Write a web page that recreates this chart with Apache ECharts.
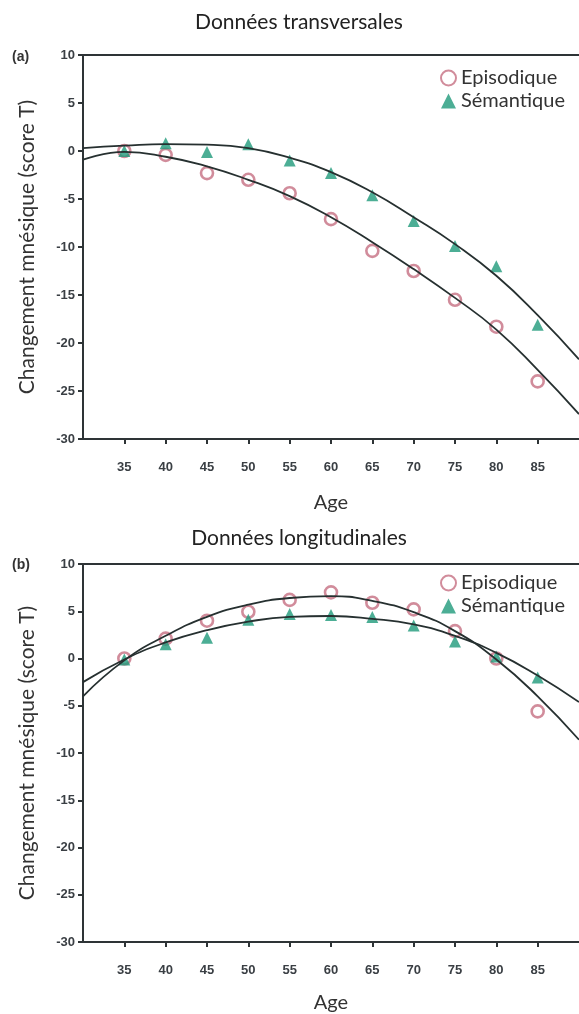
<!DOCTYPE html>
<html><head><meta charset="utf-8">
<script src="https://cdn.jsdelivr.net/npm/echarts@6/dist/echarts.min.js"></script>
<style>html,body{margin:0;padding:0;background:#fff}#c{width:579px;height:1014px}</style>
</head><body><div id="c"></div>
<script>
const ages = [35, 40, 45, 50, 55, 60, 65, 70, 75, 80, 85];
const xTicks = [30, 35, 40, 45, 50, 55, 60, 65, 70, 75, 80, 85, 90];
// (a) Données transversales
const transEpisodique = [0.0, -0.4, -2.3, -3.0, -4.4, -7.1, -10.4, -12.5, -15.5, -18.3, -24.0];
const transSemantique = [0.0, 0.8, -0.1, 0.7, -1.0, -2.3, -4.6, -7.3, -9.9, -12.0, -18.1];
// fitted curves
const fitAges = [30, 35, 40, 45, 50, 55, 60, 65, 70, 75, 80, 85, 90];
const transFitEpisodique = [-0.9, -0.1, -0.6, -1.6, -3.0, -4.7, -6.9, -9.5, -12.3, -15.3, -18.6, -22.8, -27.4];
const transFitSemantique = [0.3, 0.55, 0.72, 0.66, 0.3, -0.7, -2.2, -4.3, -6.9, -9.7, -13.0, -17.1, -21.7];
// (b) Données longitudinales
const longEpisodique = [0.0, 2.1, 4.0, 4.95, 6.2, 7.0, 5.9, 5.2, 2.9, 0.0, -5.6];
const longSemantique = [-0.1, 1.5, 2.2, 4.1, 4.7, 4.6, 4.4, 3.5, 1.8, 0.2, -2.0];
const longFitEpisodique = [-4.0, -0.2, 2.4, 4.4, 5.7, 6.4, 6.6, 6.1, 4.9, 2.9, -0.1, -4.0, -8.6];
const longFitSemantique = [-2.5, -0.1, 1.7, 3.0, 3.9, 4.4, 4.5, 4.2, 3.6, 2.4, 0.6, -1.8, -4.6];
const yTicks = [-30, -25, -20, -15, -10, -5, 0, 5, 10];

const pair = (xs, ys) => xs.map((x, i) => [x, ys[i]]);
const EPI = '#c66f82', SEM = '#1f9a7a', AX = '#2e3436', LINE = '#263030';
const FONT = 'Lato';

function xAxisFor(gi, gap) {
  return [{
    type: 'value', gridIndex: gi, position: 'bottom', min: xTicks[0], max: xTicks[xTicks.length - 1], interval: 5,
    name: 'Age', nameLocation: 'middle', nameGap: gap,
    nameTextStyle: {fontFamily: FONT, fontSize: 20, color: '#333'},
    axisLine: {show: true, onZero: false, lineStyle: {color: AX, width: 2}},
    axisTick: {show: true, length: 5, lineStyle: {color: AX, width: 2}},
    axisLabel: {showMinLabel: false, showMaxLabel: false, margin: 22, fontFamily: 'Liberation Sans', fontWeight: 'bold', fontSize: 13, color: '#3a3f44'},
    splitLine: {show: false}
  }, {
    type: 'value', gridIndex: gi, position: 'top', min: xTicks[0], max: xTicks[xTicks.length - 1],
    axisLine: {show: true, onZero: false, lineStyle: {color: AX, width: 2}},
    axisTick: {show: false}, axisLabel: {show: false}, splitLine: {show: false}
  }];
}
function yAxisFor(gi) {
  return {
    type: 'value', gridIndex: gi, position: 'left', min: yTicks[0], max: yTicks[yTicks.length - 1], interval: 5,
    name: 'Changement mnésique (score T)', nameLocation: 'middle', nameGap: 45,
    nameTextStyle: {fontFamily: FONT, fontSize: 21, color: '#333'},
    axisLine: {show: true, onZero: false, lineStyle: {color: AX, width: 2}},
    axisTick: {show: true, length: 5, lineStyle: {color: AX, width: 2}},
    axisLabel: {margin: 8, fontFamily: 'Liberation Sans', fontWeight: 'bold', fontSize: 13, color: '#3a3f44'},
    splitLine: {show: false}
  };
}
function scatter(name, gi, data, isEpi) {
  return {
    name: name, type: 'scatter', xAxisIndex: gi * 2, yAxisIndex: gi, data: data,
    symbol: isEpi ? 'circle' : 'triangle', symbolSize: isEpi ? 12 : 12,
    itemStyle: isEpi ? {color: 'rgba(255,255,255,0)', borderColor: EPI, borderWidth: 2.6} : {color: SEM},
    z: 3
  };
}
function fit(name, gi, data) {
  return {
    name: name, type: 'line', xAxisIndex: gi * 2, yAxisIndex: gi, data: data,
    smooth: true, showSymbol: false, symbol: 'none',
    lineStyle: {color: LINE, width: 1.8}, z: 4
  };
}
function legendFor(top) {
  return {
    orient: 'vertical', left: 435, top: top, itemGap: 3, itemWidth: 15, itemHeight: 15,
    data: ['Episodique', 'Sémantique'],
    textStyle: {fontFamily: FONT, fontSize: 20, color: '#333'}, selectedMode: false
  };
}
function titleText(txt, y) {
  return {type: 'text', x: 299, y: y, style: {text: txt, fontFamily: FONT, fontSize: 21, fill: '#222', textAlign: 'center', textVerticalAlign: 'middle'}};
}
function panelTag(txt, y) {
  return {type: 'text', x: 12, y: y, style: {text: txt, fontFamily: 'Liberation Sans', fontSize: 14, fontWeight: 'bold', fill: '#333', textAlign: 'left', textVerticalAlign: 'middle'}};
}

const chart = echarts.init(document.getElementById('c'), null, {renderer: 'canvas'});
chart.setOption({
  backgroundColor: '#fff',
  animation: false,
  graphic: [
    titleText('Données transversales', 22),
    titleText('Données longitudinales', 538),
    panelTag('(a)', 57),
    panelTag('(b)', 565)
  ],
  legend: [legendFor(63), legendFor(568)],
  grid: [
    {left: 83, top: 55, width: 497, height: 384},
    {left: 83, top: 564, width: 497, height: 385}
  ],
  xAxis: [...xAxisFor(0, 54), ...xAxisFor(1, 51)],
  yAxis: [yAxisFor(0), yAxisFor(1)],
  series: [
    scatter('Episodique', 0, pair(ages, transEpisodique), true),
    scatter('Sémantique', 0, pair(ages, transSemantique), false),
    fit('fitEpiA', 0, pair(fitAges, transFitEpisodique)),
    fit('fitSemA', 0, pair(fitAges, transFitSemantique)),
    scatter('Episodique', 1, pair(ages, longEpisodique), true),
    scatter('Sémantique', 1, pair(ages, longSemantique), false),
    fit('fitEpiB', 1, pair(fitAges, longFitEpisodique)),
    fit('fitSemB', 1, pair(fitAges, longFitSemantique))
  ]
});
</script></body></html>
